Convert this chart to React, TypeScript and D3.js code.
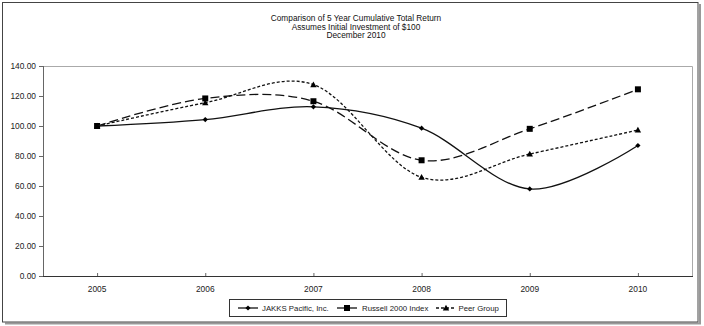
import React from "react";
import * as d3 from "d3";

const years = ["2005", "2006", "2007", "2008", "2009", "2010"];
const jakks = [100, 104.3, 112.77, 98.52, 58.02, 87.01];
const russell = [100, 118.37, 116.51, 77.15, 98.11, 124.46];
const peer = [100, 115.5, 127.6, 65.8, 81.3, 97.3];
const yTicks = [0, 20, 40, 60, 80, 100, 120, 140];
const titleLines = [
  "Comparison of 5 Year Cumulative  Total Return",
  "Assumes Initial Investment  of $100",
  "December 2010",
];
const seriesNames = ["JAKKS Pacific, Inc.", "Russell 2000 Index", "Peer Group"];

const W = 704;
const H = 326;
const plot = { left: 43, top: 66, right: 692, bottom: 276 };
const FONT = "'Liberation Sans', Arial, sans-serif";

type Marker = "diamond" | "square" | "triangle";

function markerPath(kind: Marker, x: number, y: number): string {
  if (kind === "diamond") {
    const r = 2.6;
    return `M${x},${y - r}L${x + r},${y}L${x},${y + r}L${x - r},${y}Z`;
  }
  if (kind === "square") {
    const r = 3;
    return `M${x - r},${y - r}h${2 * r}v${2 * r}h${-2 * r}Z`;
  }
  const r = 3.2;
  return `M${x},${y - r}L${x + r},${y + r * 0.8}L${x - r},${y + r * 0.8}Z`;
}

export default function App() {
  const x = d3.scalePoint<string>().domain(years).range([plot.left, plot.right]).padding(0.5);
  const y = d3.scaleLinear().domain([0, 140]).range([plot.bottom, plot.top]);

  const series = [
    { name: seriesNames[0], values: jakks, dash: "none", marker: "diamond" as Marker },
    { name: seriesNames[1], values: russell, dash: "9,4", marker: "square" as Marker },
    { name: seriesNames[2], values: peer, dash: "3,2", marker: "triangle" as Marker },
  ];

  const line = d3
    .line<number>()
    .x((_, i) => x(years[i]) as number)
    .y((d) => y(d))
    .curve(d3.curveCatmullRom.alpha(0));

  const legendItems = [
    { lx: 238, tx: 262 },
    { lx: 337, tx: 362 },
    { lx: 436, tx: 458.5 },
  ];

  return (
    <svg
      width={W}
      height={H}
      style={{ position: "fixed", left: 0, top: 0, background: "#fff" }}
      fontFamily={FONT}
    >
      <rect x={0} y={0} width={W} height={H} fill="#fff" />
      {/* outer frame with shadow */}
      <line x1={700} y1={4} x2={700} y2={324} stroke="#999" strokeWidth={2} />
      <line x1={5} y1={323.5} x2={701} y2={323.5} stroke="#999" strokeWidth={2} />
      <rect x={2.5} y={2.5} width={695.5} height={319.5} fill="#fff" stroke="#444" strokeWidth={1} />

      {/* title */}
      {titleLines.map((t, i) => (
        <text key={i} x={356} y={21 + i * 8.6} textAnchor="middle" fontSize={8.3} fill="#111">
          {t}
        </text>
      ))}

      {/* plot frame (top & right) */}
      <path
        d={`M${plot.left},${plot.top + 0.5}H${plot.right + 0.5}V${plot.bottom}`}
        fill="none"
        stroke="#aaa"
        strokeWidth={1}
      />

      {/* y axis */}
      <line x1={plot.left + 0.5} y1={plot.top} x2={plot.left + 0.5} y2={plot.bottom} stroke="#666" />
      {yTicks.map((t) => (
        <g key={t}>
          <line x1={plot.left - 4} x2={plot.left} y1={y(t) + 0.5} y2={y(t) + 0.5} stroke="#666" />
          <text x={plot.left - 7} y={y(t) + 3} textAnchor="end" fontSize={8.4} fill="#222">
            {t.toFixed(2)}
          </text>
        </g>
      ))}

      {/* x axis */}
      <line x1={plot.left} x2={plot.right + 1} y1={plot.bottom + 0.5} y2={plot.bottom + 0.5} stroke="#333" />
      {years.map((yr) => (
        <g key={yr}>
          <line
            x1={(x(yr) as number) + 0.5}
            x2={(x(yr) as number) + 0.5}
            y1={plot.bottom - 3}
            y2={plot.bottom}
            stroke="#666"
          />
          <text x={x(yr) as number} y={292} textAnchor="middle" fontSize={8.4} fill="#222">
            {yr}
          </text>
        </g>
      ))}

      {/* series */}
      {series.map((s) => (
        <g key={s.name}>
          <path d={line(s.values) || ""} fill="none" stroke="#111" strokeWidth={1.3} strokeDasharray={s.dash} />
          {s.values.map((v, i) => (
            <path key={i} d={markerPath(s.marker, x(years[i]) as number, y(v))} fill="#000" />
          ))}
        </g>
      ))}

      {/* legend */}
      <rect x={229.5} y={299.5} width={277} height={17} fill="#fff" stroke="#333" />
      {series.map((s, i) => {
        const it = legendItems[i];
        const cy = 308;
        return (
          <g key={s.name}>
            <line x1={it.lx} x2={it.lx + 20} y1={cy} y2={cy} stroke="#111" strokeWidth={1.3} strokeDasharray={s.dash === "9,4" ? "none" : s.dash} />
            <path d={markerPath(s.marker, it.lx + 10, cy)} fill="#000" />
            <text x={it.tx} y={cy + 3} fontSize={7.8} fill="#222">
              {s.name}
            </text>
          </g>
        );
      })}
    </svg>
  );
}
